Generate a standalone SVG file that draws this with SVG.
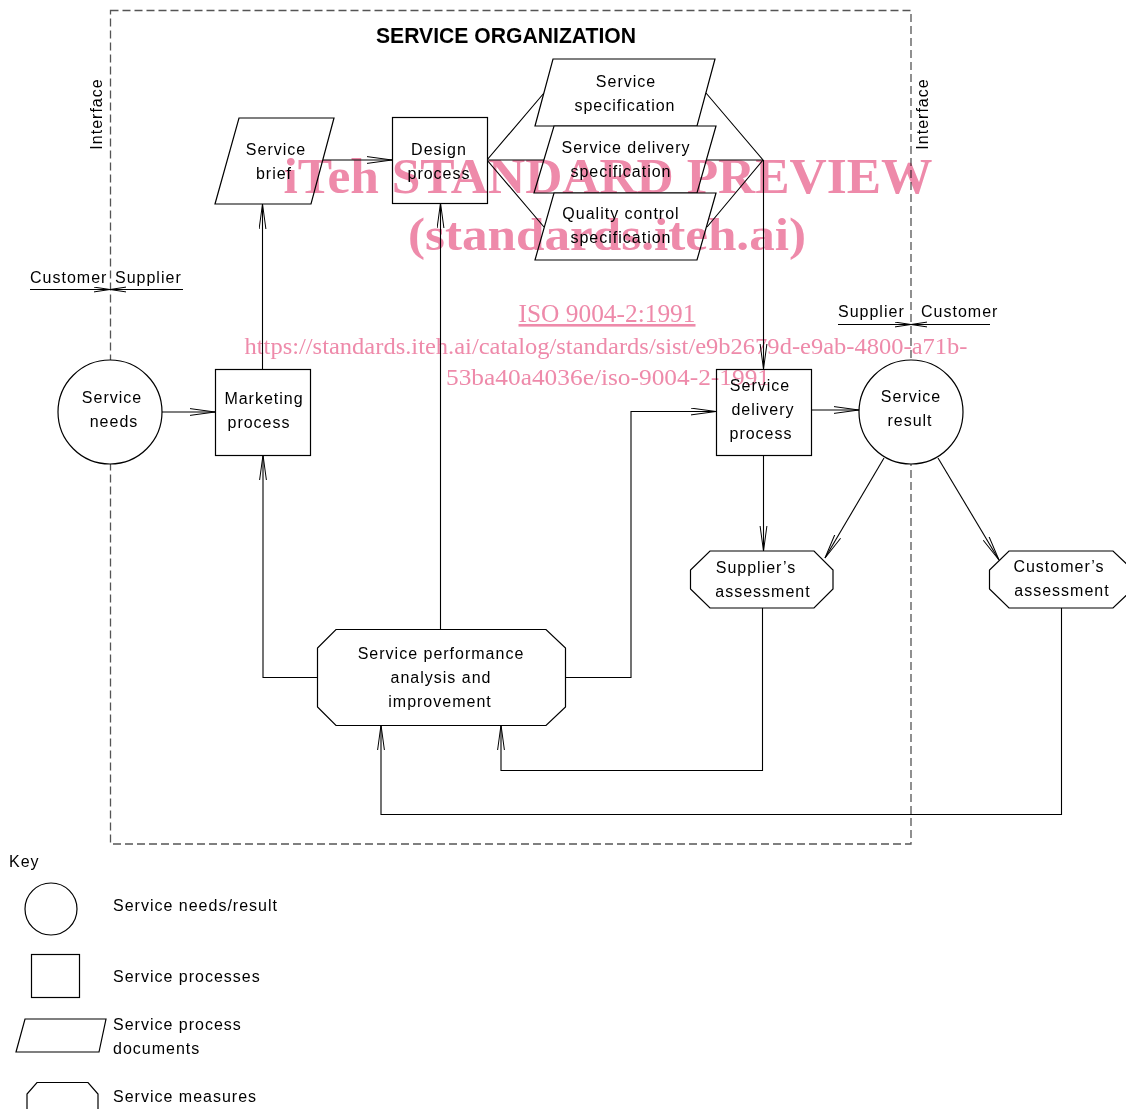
<svg xmlns="http://www.w3.org/2000/svg" width="1126" height="1109" viewBox="0 0 1126 1109">
<style>
.s{fill:#fff;stroke:#000;stroke-width:1.2}
.c{fill:none;stroke:#000;stroke-width:1.1}
.t{font-family:"Liberation Sans",Arial,sans-serif;font-size:16px;letter-spacing:1px;fill:#000;text-anchor:middle}
.l{font-family:"Liberation Sans",Arial,sans-serif;font-size:16px;letter-spacing:1px;fill:#000}
.w{font-family:"Liberation Serif","Times New Roman",serif;fill:#ee8aaa;text-anchor:middle}
#watermark{mix-blend-mode:multiply}
</style>
<defs>
<marker id="a" markerUnits="userSpaceOnUse" markerWidth="28" markerHeight="10" refX="25" refY="4" orient="auto">
<path d="M0,0.6 L25,4 L0,7.4" fill="none" stroke="#000" stroke-width="1"/>
</marker>
<marker id="b" markerUnits="userSpaceOnUse" markerWidth="18" markerHeight="8" refX="16" refY="3" orient="auto">
<path d="M0,0.6 L16,3 L0,5.4" fill="none" stroke="#000" stroke-width="1"/>
</marker>
</defs>
<rect width="1126" height="1109" fill="#fff"/>
<g id="organization">
<rect x="110.5" y="10.5" width="800.5" height="833.5" fill="none" stroke="#555" stroke-width="1.3" stroke-dasharray="8,4"/>
<text x="506" y="43" font-family="Liberation Sans,Arial,sans-serif" font-size="22" font-weight="bold" text-anchor="middle" textLength="260" lengthAdjust="spacingAndGlyphs">SERVICE ORGANIZATION</text>
</g>
<g id="interface-left">
<text class="t" transform="translate(102,114) rotate(-90)">Interface</text>
<text class="l" x="30" y="283">Customer</text>
<text class="l" x="115" y="283">Supplier</text>
<line class="c" x1="30" y1="289.5" x2="110" y2="289.5" marker-end="url(#b)"/>
<line class="c" x1="183" y1="289.5" x2="110" y2="289.5" marker-end="url(#b)"/>
</g>
<g id="interface-right">
<text class="t" transform="translate(928,114) rotate(-90)">Interface</text>
<text class="l" x="838" y="317">Supplier</text>
<text class="l" x="921" y="317">Customer</text>
<line class="c" x1="838" y1="324.5" x2="911" y2="324.5" marker-end="url(#b)"/>
<line class="c" x1="990" y1="324.5" x2="911" y2="324.5" marker-end="url(#b)"/>
</g>
<g id="connectors">
<line class="c" x1="162" y1="412" x2="215" y2="412" marker-end="url(#a)"/>
<line class="c" x1="262.5" y1="369" x2="262.5" y2="204" marker-end="url(#a)"/>
<line class="c" x1="323" y1="160" x2="392" y2="160" marker-end="url(#a)"/>
<polyline class="c" points="544,93 487,160 544,227"/>
<line class="c" x1="487" y1="160" x2="763" y2="160"/>
<polyline class="c" points="706,93 763,160 707,227"/>
<line class="c" x1="763.5" y1="160" x2="763.5" y2="369" marker-end="url(#a)"/>
<line class="c" x1="811" y1="410" x2="859" y2="410" marker-end="url(#a)"/>
<line class="c" x1="763.5" y1="455" x2="763.5" y2="551" marker-end="url(#a)"/>
<line class="c" x1="884" y1="458" x2="825" y2="558" marker-end="url(#a)"/>
<line class="c" x1="938" y1="458" x2="999" y2="560" marker-end="url(#a)"/>
<line class="c" x1="440.5" y1="629" x2="440.5" y2="203" marker-end="url(#a)"/>
<polyline class="c" points="317,677.5 263,677.5 263,455" marker-end="url(#a)"/>
<polyline class="c" points="566,677.5 631,677.5 631,411.5 716,411.5" marker-end="url(#a)"/>
<polyline class="c" points="762.5,608 762.5,770.5 501,770.5 501,725" marker-end="url(#a)"/>
<polyline class="c" points="1061.5,608 1061.5,814.5 381,814.5 381,725" marker-end="url(#a)"/>
</g>
<g id="service-needs">
<circle class="s" cx="110" cy="412" r="52"/>
<text class="t" x="112" y="403">Service</text>
<text class="t" x="114" y="427">needs</text>
</g>
<g id="marketing-process">
<rect class="s" x="215.5" y="369.5" width="95" height="86"/>
<text class="t" x="264" y="404">Marketing</text>
<text class="t" x="259" y="428">process</text>
</g>
<g id="service-brief">
<polygon class="s" points="239,118 334,118 311,204 215,204"/>
<text class="t" x="276" y="155">Service</text>
<text class="t" x="274" y="179">brief</text>
</g>
<g id="design-process">
<rect class="s" x="392.5" y="117.5" width="95" height="86"/>
<text class="t" x="439" y="155">Design</text>
<text class="t" x="439" y="179">process</text>
</g>
<g id="service-specification">
<polygon class="s" points="553,59 715,59 697,126 535,126"/>
<text class="t" x="626" y="87">Service</text>
<text class="t" x="625" y="111">specification</text>
</g>
<g id="service-delivery-specification">
<polygon class="s" points="554,126 716,126 697,193 534,193"/>
<text class="t" x="626" y="153">Service delivery</text>
<text class="t" x="621" y="177">specification</text>
</g>
<g id="quality-control-specification">
<polygon class="s" points="554,193 716,193 697,260 535,260"/>
<text class="t" x="621" y="219">Quality control</text>
<text class="t" x="621" y="243">specification</text>
</g>
<g id="service-delivery-process">
<rect class="s" x="716.5" y="369.5" width="95" height="86"/>
<text class="t" x="760" y="391">Service</text>
<text class="t" x="763" y="415">delivery</text>
<text class="t" x="761" y="439">process</text>
</g>
<g id="service-result">
<circle class="s" cx="911" cy="412" r="52"/>
<text class="t" x="911" y="402">Service</text>
<text class="t" x="910" y="426">result</text>
</g>
<g id="suppliers-assessment">
<polygon class="s" points="710,551 814,551 833,570 833,589 814,608 710,608 690.5,589 690.5,570"/>
<text class="t" x="756" y="573">Supplier’s</text>
<text class="t" x="763" y="597">assessment</text>
</g>
<g id="customers-assessment">
<polygon class="s" points="1009,551 1113,551 1133,570 1133,589 1113,608 1009,608 989.5,589 989.5,570"/>
<text class="t" x="1059" y="572">Customer’s</text>
<text class="t" x="1062" y="596">assessment</text>
</g>
<g id="service-performance">
<polygon class="s" points="336,629.5 546,629.5 565.5,648 565.5,707 546,725.5 336,725.5 317.5,707 317.5,648"/>
<text class="t" x="441" y="659">Service performance</text>
<text class="t" x="441" y="683">analysis and</text>
<text class="t" x="440" y="707">improvement</text>
</g>
<g id="key">
<text class="l" x="9" y="867">Key</text>
<circle class="s" cx="51" cy="909" r="26"/>
<text class="l" x="113" y="911">Service needs/result</text>
<rect class="s" x="31.5" y="954.5" width="48" height="43"/>
<text class="l" x="113" y="982">Service processes</text>
<polygon class="s" points="25,1019 106,1019 99,1052 16,1052"/>
<text class="l" x="113" y="1030">Service process</text>
<text class="l" x="113" y="1054">documents</text>
<polygon class="s" points="37,1082.5 88,1082.5 98,1094 98,1112 27,1112 27,1094"/>
<text class="l" x="113" y="1102">Service measures</text>
</g>
<g id="watermark">
<text class="w" x="608" y="193" font-size="50" font-weight="bold" textLength="649" lengthAdjust="spacingAndGlyphs">iTeh STANDARD PREVIEW</text>
<text class="w" x="607" y="250" font-size="46" font-weight="bold" textLength="398" lengthAdjust="spacingAndGlyphs">(standards.iteh.ai)</text>
<text class="w" x="607" y="322" font-size="26" text-decoration="underline" textLength="177" lengthAdjust="spacingAndGlyphs">ISO 9004-2:1991</text>
<text class="w" x="606" y="354" font-size="24" textLength="723" lengthAdjust="spacingAndGlyphs">https://standards.iteh.ai/catalog/standards/sist/e9b2679d-e9ab-4800-a71b-</text>
<text class="w" x="608" y="385" font-size="24" textLength="324" lengthAdjust="spacingAndGlyphs">53ba40a4036e/iso-9004-2-1991</text>
</g>
</svg>
